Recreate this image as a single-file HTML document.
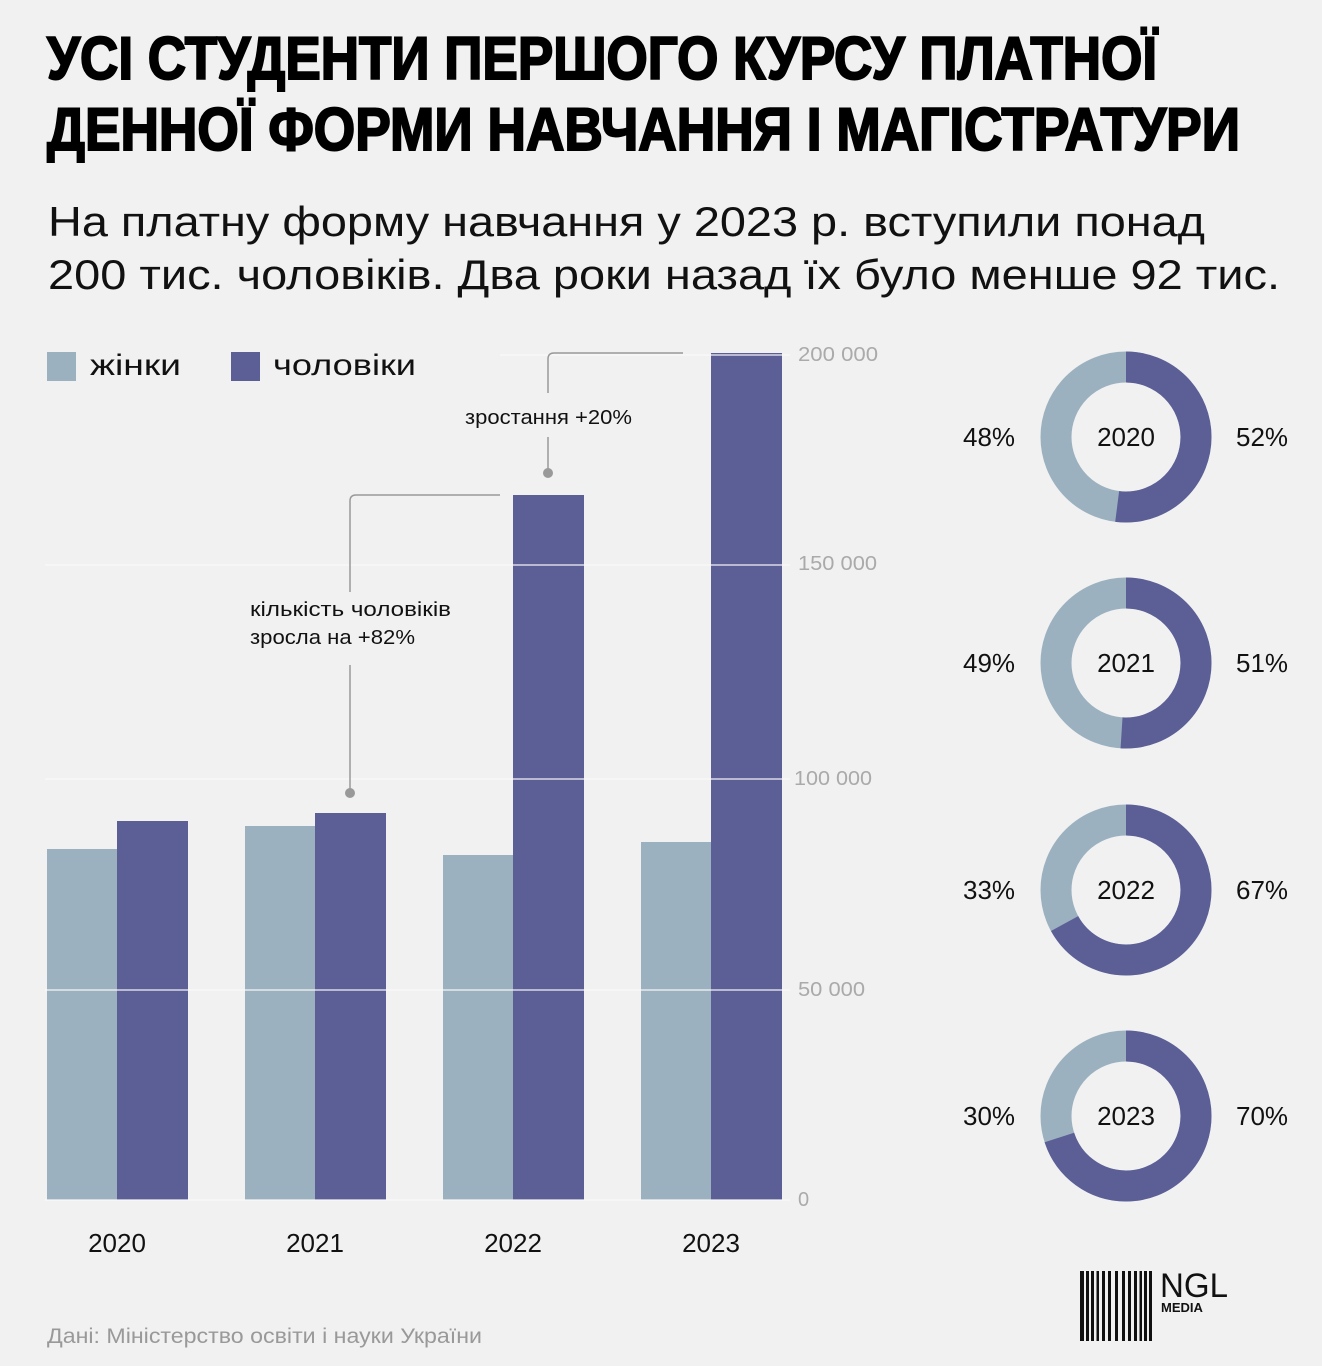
<!DOCTYPE html>
<html><head><meta charset="utf-8"><style>
html,body{margin:0;padding:0;background:#f1f1f1;}
svg{display:block;font-family:"Liberation Sans","DejaVu Sans",sans-serif;}
</style></head><body>
<svg width="1322" height="1366" viewBox="0 0 1322 1366" xmlns="http://www.w3.org/2000/svg">
<rect width="1322" height="1366" fill="#f1f1f1"/>
<g font-weight="bold" font-size="60" fill="#000" stroke="#000" stroke-width="2">
<text x="47" y="79" textLength="1110" lengthAdjust="spacingAndGlyphs">УСІ СТУДЕНТИ ПЕРШОГО КУРСУ ПЛАТНОЇ</text>
<text x="47" y="150" textLength="1193" lengthAdjust="spacingAndGlyphs">ДЕННОЇ ФОРМИ НАВЧАННЯ І МАГІСТРАТУРИ</text>
</g>
<g font-size="42" fill="#111">
<text x="48" y="236" textLength="1157" lengthAdjust="spacingAndGlyphs">На платну форму навчання у 2023 р. вступили понад</text>
<text x="48" y="289" textLength="1232" lengthAdjust="spacingAndGlyphs">200 тис. чоловіків. Два роки назад їх було менше 92 тис.</text>
</g>
<!-- legend -->
<rect x="47" y="352" width="29" height="29" fill="#9bb1bf"/>
<text x="90" y="375" font-size="30" fill="#111" textLength="91" lengthAdjust="spacingAndGlyphs">жінки</text>
<rect x="231" y="352" width="29" height="29" fill="#5c5e96"/>
<text x="273" y="375" font-size="30" fill="#111" textLength="143" lengthAdjust="spacingAndGlyphs">чоловіки</text>
<!-- bars -->
<g fill="#9bb1bf">
<rect x="47" y="849" width="70" height="351"/>
<rect x="245" y="826" width="70" height="374"/>
<rect x="443" y="855" width="70" height="345"/>
<rect x="641" y="842" width="70" height="358"/>
</g>
<g fill="#5c5e96">
<rect x="117" y="821" width="71" height="379"/>
<rect x="315" y="813" width="71" height="387"/>
<rect x="513" y="495" width="71" height="705"/>
<rect x="711" y="353" width="71" height="847"/>
</g>
<!-- grid -->
<g stroke="#fafafa" stroke-width="1.5" opacity="0.8">
<line x1="500" y1="355" x2="790" y2="355"/>
<line x1="45" y1="565" x2="790" y2="565"/>
<line x1="45" y1="779" x2="790" y2="779"/>
<line x1="45" y1="990" x2="790" y2="990"/>
<line x1="45" y1="1200" x2="790" y2="1200"/>
</g>
<g font-size="20" fill="#aaa">
<text x="798" y="361" textLength="80" lengthAdjust="spacingAndGlyphs">200 000</text>
<text x="798" y="570" textLength="79" lengthAdjust="spacingAndGlyphs">150 000</text>
<text x="794" y="785" textLength="78" lengthAdjust="spacingAndGlyphs">100 000</text>
<text x="798" y="996" textLength="67" lengthAdjust="spacingAndGlyphs">50 000</text>
<text x="798" y="1206">0</text>
</g>
<g font-size="26" fill="#111" text-anchor="middle">
<text x="117" y="1252">2020</text>
<text x="315" y="1252">2021</text>
<text x="513" y="1252">2022</text>
<text x="711" y="1252">2023</text>
</g>
<!-- annotations -->
<g fill="none" stroke="#999" stroke-width="1.5">
<path d="M500 495 H356 Q350 495 350 501 V592"/>
<path d="M350 665 V790"/>
<path d="M683 353 H554 Q548 353 548 359 V393"/>
<path d="M548 437 V470"/>
</g>
<circle cx="350" cy="793" r="5" fill="#999"/>
<circle cx="548" cy="473" r="5" fill="#999"/>
<g font-size="20" fill="#111">
<text x="250" y="616" textLength="201" lengthAdjust="spacingAndGlyphs">кількість чоловіків</text>
<text x="250" y="644" textLength="165" lengthAdjust="spacingAndGlyphs">зросла на +82%</text>
<text x="465" y="424" textLength="167" lengthAdjust="spacingAndGlyphs">зростання +20%</text>
</g>
<!-- donuts -->
<g font-size="26" fill="#111">
<g transform="translate(1126,437)">
<circle r="70" fill="none" stroke="#9bb1bf" stroke-width="31"/>
<circle r="70" fill="none" stroke="#5c5e96" stroke-width="31" stroke-dasharray="228.7 500" transform="rotate(-90)"/>
<text y="9" text-anchor="middle">2020</text>
<text x="-163" y="9">48%</text><text x="110" y="9">52%</text>
</g>
<g transform="translate(1126,663)">
<circle r="70" fill="none" stroke="#9bb1bf" stroke-width="31"/>
<circle r="70" fill="none" stroke="#5c5e96" stroke-width="31" stroke-dasharray="224.3 500" transform="rotate(-90)"/>
<text y="9" text-anchor="middle">2021</text>
<text x="-163" y="9">49%</text><text x="110" y="9">51%</text>
</g>
<g transform="translate(1126,890)">
<circle r="70" fill="none" stroke="#9bb1bf" stroke-width="31"/>
<circle r="70" fill="none" stroke="#5c5e96" stroke-width="31" stroke-dasharray="294.7 500" transform="rotate(-90)"/>
<text y="9" text-anchor="middle">2022</text>
<text x="-163" y="9">33%</text><text x="110" y="9">67%</text>
</g>
<g transform="translate(1126,1116)">
<circle r="70" fill="none" stroke="#9bb1bf" stroke-width="31"/>
<circle r="70" fill="none" stroke="#5c5e96" stroke-width="31" stroke-dasharray="307.9 500" transform="rotate(-90)"/>
<text y="9" text-anchor="middle">2023</text>
<text x="-163" y="9">30%</text><text x="110" y="9">70%</text>
</g>
</g>
<!-- logo -->
<g fill="#111">
<rect x="1080" y="1271" width="72" height="70" fill="#111"/>
<g fill="#f1f1f1">
<rect x="1084" y="1271" width="2" height="70"/><rect x="1089" y="1271" width="2" height="70"/>
<rect x="1094" y="1271" width="2.5" height="70"/><rect x="1099" y="1271" width="3" height="70"/>
<rect x="1105" y="1271" width="3" height="70"/><rect x="1111" y="1271" width="4" height="70"/>
<rect x="1118" y="1271" width="4" height="70"/><rect x="1125" y="1271" width="3" height="70"/>
<rect x="1131" y="1271" width="3" height="70"/><rect x="1137" y="1271" width="2.5" height="70"/>
<rect x="1142" y="1271" width="2" height="70"/><rect x="1147" y="1271" width="2" height="70"/>
</g>
<text x="1160" y="1297" font-size="34" textLength="68" lengthAdjust="spacingAndGlyphs">NGL</text>
<text x="1161" y="1312" font-size="13" font-weight="bold">MEDIA</text>
</g>
<text x="47" y="1343" font-size="21" fill="#999" textLength="435" lengthAdjust="spacingAndGlyphs">Дані: Міністерство освіти і науки України</text>
</svg>
</body></html>
